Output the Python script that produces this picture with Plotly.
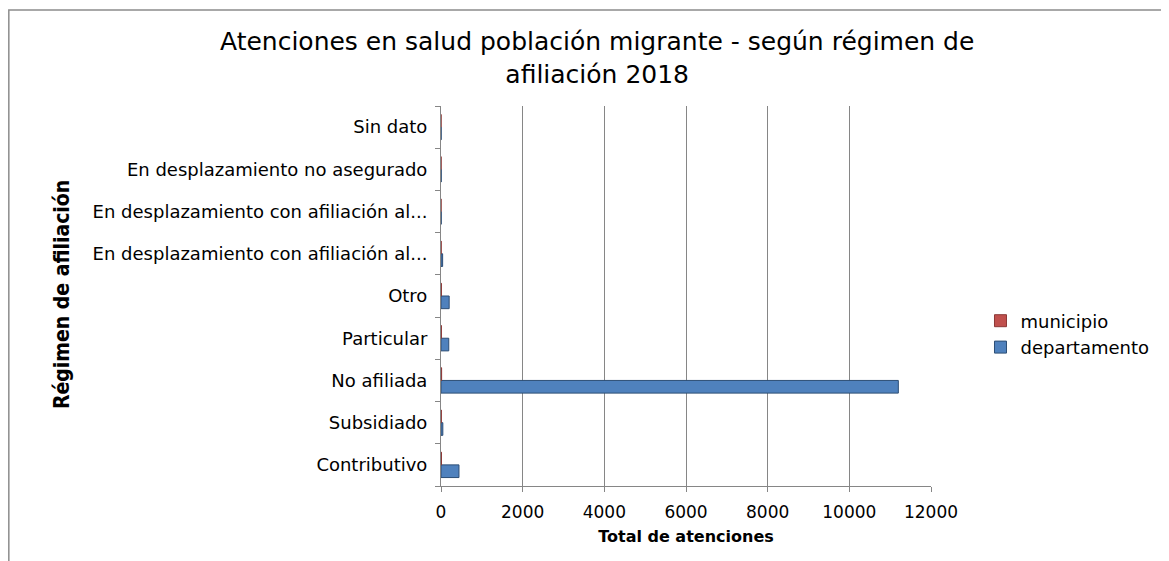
import plotly.graph_objects as go

# categories from bottom to top
categorias = [
    "Contributivo",
    "Subsidiado",
    "No afiliada",
    "Particular",
    "Otro",
    "En desplazamiento con afiliación al régimen contributivo",
    "En desplazamiento con afiliación al régimen subsidiado",
    "En desplazamiento no asegurado",
    "Sin dato",
]
etiquetas = [
    "Contributivo",
    "Subsidiado",
    "No afiliada",
    "Particular",
    "Otro",
    "En desplazamiento con afiliación al...",
    "En desplazamiento con afiliación al...",
    "En desplazamiento no asegurado",
    "Sin dato",
]
departamento = [440, 45, 11200, 190, 200, 40, 5, 5, 3]
municipio = [12, 8, 15, 10, 10, 4, 1, 2, 1]

x_ticks = [0, 2000, 4000, 6000, 8000, 10000, 12000]

fig = go.Figure()
fig.add_trace(go.Bar(
    y=categorias, x=departamento, name="departamento", orientation="h",
    marker=dict(color="#4F81BD", line=dict(color="#2C4D75", width=1)),
))
fig.add_trace(go.Bar(
    y=categorias, x=municipio, name="municipio", orientation="h",
    marker=dict(color="#C0504D", line=dict(color="#8C3836", width=1)),
))

fig.update_layout(
    width=1169, height=561,
    margin=dict(l=433, r=246, t=98, b=83),
    paper_bgcolor="white", plot_bgcolor="white",
    font=dict(family="DejaVu Sans", color="black"),
    title=dict(
        text="Atenciones en salud población migrante - según régimen de<br>afiliación 2018",
        x=0.504, xanchor="center", y=0.925, yanchor="top",
        font=dict(size=25),
    ),
    barmode="group", bargap=0.4, bargroupgap=0,
    showlegend=True,
    legend=dict(
        x=1.101, y=0.40, xanchor="left", yanchor="middle",
        traceorder="reversed", font=dict(size=18),
        itemwidth=30,
    ),
    xaxis=dict(
        range=[0, 12000], tickvals=x_ticks, tickformat="d",
        ticks="outside", ticklen=5, tickcolor="#868686",
        ticklabelstandoff=6,
        showgrid=True, gridcolor="#868686", gridwidth=1,
        zeroline=False, showline=True, linecolor="#868686",
        tickfont=dict(size=17),
        title=dict(text="<b>Total de atenciones</b>", font=dict(size=16), standoff=9),
    ),
    yaxis=dict(
        tickvals=categorias, ticktext=etiquetas, tickson="boundaries",
        showline=True, linecolor="#868686", linewidth=1,
        ticks="outside", ticklen=5, tickcolor="#868686",
        ticklabelstandoff=9,
        showgrid=False, tickfont=dict(size=18),
    ),
    annotations=[dict(
        text="<b>Régimen de afiliación</b>", textangle=-90,
        xref="paper", yref="paper", x=-0.773, y=0.503,
        xanchor="center", yanchor="middle", showarrow=False,
        font=dict(family="DejaVu Sans Condensed, DejaVu Sans", size=21),
    )],
    shapes=[dict(
        type="rect", xref="paper", yref="paper",
        x0=-0.882, x1=1.6, y0=-0.3, y1=1.2526,
        line=dict(color="#8C8C8C", width=1.5), layer="below",
    )],
)

fig.write_html("out.html")
